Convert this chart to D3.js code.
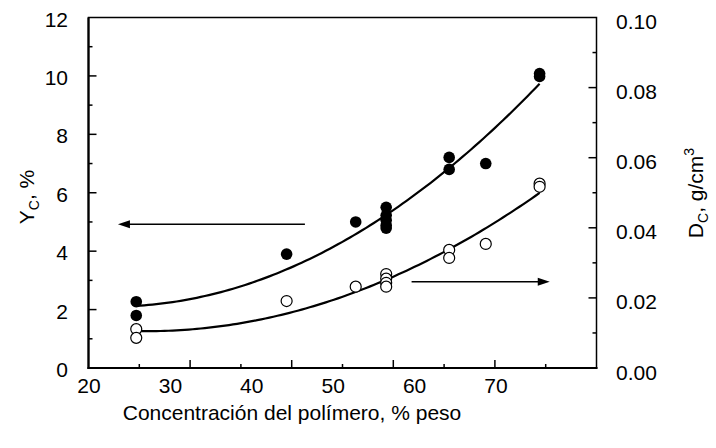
<!DOCTYPE html>
<html>
<head>
<meta charset="utf-8">
<script src="https://cdn.jsdelivr.net/npm/d3@7"></script>
<style>
  body { margin: 0; background: #fff; }
  text { font-family: "Liberation Sans", Arial, sans-serif; fill: #000; }
</style>
</head>
<body>
<svg id="chart" width="716" height="448"></svg>
<script>
// Tick values
const xTicks = [20, 30, 40, 50, 60, 70];
const yLeftTicks = [0, 2, 4, 6, 8, 10, 12];
const yRightTicks = [0, 0.02, 0.04, 0.06, 0.08, 0.10];

// Y_C (%) vs polymer concentration — filled markers, left axis
const ycConc = [24.7, 24.7, 39.5, 46.3, 49.3, 49.3, 49.3, 49.3, 49.3, 55.5, 55.5, 59.1, 64.4, 64.4];
const ycVal  = [2.27, 1.80, 3.90, 5.00, 5.50, 5.23, 5.06, 4.89, 4.79, 7.21, 6.80, 7.00, 10.08, 9.98];

// D_C (g/cm3) vs polymer concentration — open markers, right axis
const dcConc = [24.7, 24.7, 39.5, 46.3, 49.3, 49.3, 49.3, 49.3, 55.5, 55.5, 59.1, 64.4, 64.4];
const dcVal  = [0.0111, 0.0086, 0.0191, 0.0232, 0.0268, 0.0255, 0.0243, 0.0232, 0.0337, 0.0314, 0.0354, 0.0526, 0.0517];

// Arrows pointing to each series' axis: [x0, x1, y]
const arrowLeft  = [41.3, 22.9, 4.92];
const arrowRight = [51.8, 65.4, 0.0246];

const svg = d3.select("#chart");
const L = 88.5, R = 596.5, T = 17.5, B = 368;

const x = d3.scaleLinear().domain([20, 70]).range([L, R]);
const xLabel = d3.scaleLinear().domain([20, 70]).range([89, 496]);
const yL = d3.scaleLinear().domain([0, 12]).range([B, T]);
const yR = d3.scaleLinear().domain([0, 0.10]).range([B, T]);

// Quadratic least-squares trend line
function quadFit(xs, ys) {
  const n = xs.length;
  let s = [0, 0, 0, 0, 0], t = [0, 0, 0];
  for (let i = 0; i < n; i++) {
    const xi = xs[i], yi = ys[i];
    for (let k = 0; k < 5; k++) s[k] += Math.pow(xi, k);
    for (let k = 0; k < 3; k++) t[k] += yi * Math.pow(xi, k);
  }
  const M = [[s[0], s[1], s[2], t[0]], [s[1], s[2], s[3], t[1]], [s[2], s[3], s[4], t[2]]];
  for (let c = 0; c < 3; c++) {
    for (let r = c + 1; r < 3; r++) {
      const f = M[r][c] / M[c][c];
      for (let k = c; k < 4; k++) M[r][k] -= f * M[c][k];
    }
  }
  const a = [0, 0, 0];
  for (let r = 2; r >= 0; r--) {
    let v = M[r][3];
    for (let k = r + 1; k < 3; k++) v -= M[r][k] * a[k];
    a[r] = v / M[r][r];
  }
  return xv => a[0] + a[1] * xv + a[2] * xv * xv;
}

function trend(xs, ys, yScale) {
  const f = quadFit(xs, ys);
  const lo = d3.min(xs), hi = d3.max(xs);
  const pts = d3.range(0, 101).map(i => lo + (hi - lo) * i / 100);
  svg.append("path")
    .attr("d", d3.line().x(d => x(d)).y(d => yScale(f(d)))(pts))
    .attr("fill", "none").attr("stroke", "#000").attr("stroke-width", 2.2);
}

// Frame
svg.append("rect").attr("x", L).attr("y", T).attr("width", R - L).attr("height", B - T)
  .attr("fill", "none").attr("stroke", "#000").attr("stroke-width", 1.5);
svg.append("line").attr("x1", L).attr("x2", L).attr("y1", T).attr("y2", B + 1)
  .attr("stroke", "#000").attr("stroke-width", 2.2);
svg.append("line").attr("x1", L - 1).attr("x2", R + 1).attr("y1", B).attr("y2", B)
  .attr("stroke", "#000").attr("stroke-width", 2.2);

// Ticks (inside)
const tickG = svg.append("g").attr("stroke", "#000").attr("stroke-width", 1.5);
d3.range(25, 70, 5).forEach(v => {
  const major = v % 10 === 0;
  tickG.append("line").attr("x1", x(v)).attr("x2", x(v)).attr("y1", B).attr("y2", B - (major ? 8 : 4));
});
d3.range(1, 12, 1).forEach(v => {
  const major = v % 2 === 0;
  tickG.append("line").attr("x1", L).attr("x2", L + (major ? 8 : 4)).attr("y1", yL(v)).attr("y2", yL(v));
});
d3.range(1, 10, 1).map(v => v / 100).forEach(v => {
  const major = Math.round(v * 100) % 2 === 0;
  tickG.append("line").attr("x1", R).attr("x2", R - (major ? 8 : 4)).attr("y1", yR(v)).attr("y2", yR(v));
});

// Tick labels
const fs = 21, sub = 14;
svg.append("g").selectAll("text").data(xTicks).join("text")
  .attr("x", d => xLabel(d)).attr("y", 393).attr("text-anchor", "middle")
  .attr("font-size", fs).text(d => d);
svg.append("g").selectAll("text").data(yLeftTicks).join("text")
  .attr("x", 68).attr("y", d => yL(d) + 9).attr("text-anchor", "end")
  .attr("font-size", fs).text(d => d);
svg.append("g").selectAll("text").data(yRightTicks).join("text")
  .attr("x", 616).attr("y", d => yR(d) + 11.5).attr("text-anchor", "start")
  .attr("font-size", fs).text(d => d3.format(".2f")(d));

// Axis titles
svg.append("text").attr("x", 292).attr("y", 420).attr("text-anchor", "middle")
  .attr("font-size", fs).text("Concentración del polímero, % peso");

const yt = svg.append("text").attr("transform", "translate(34,197) rotate(-90)")
  .attr("text-anchor", "middle").attr("font-size", fs);
yt.append("tspan").text("Y");
yt.append("tspan").attr("font-size", sub).attr("dy", 5).text("C");
yt.append("tspan").attr("dy", -5).text(", %");

const rt = svg.append("text").attr("transform", "translate(703,193) rotate(-90)")
  .attr("text-anchor", "middle").attr("font-size", fs);
rt.append("tspan").text("D");
rt.append("tspan").attr("font-size", sub).attr("dy", 5).text("C");
rt.append("tspan").attr("dy", -5).text(", g/cm");
rt.append("tspan").attr("font-size", sub).attr("dy", -9).text("3");

// Trend lines
trend(ycConc, ycVal, yL);
trend(dcConc, dcVal, yR);

// Markers
svg.append("g").selectAll("circle").data(d3.range(ycConc.length)).join("circle")
  .attr("cx", i => x(ycConc[i])).attr("cy", i => yL(ycVal[i])).attr("r", 5.8)
  .attr("fill", "#000");
svg.append("g").selectAll("circle").data(d3.range(dcConc.length)).join("circle")
  .attr("cx", i => x(dcConc[i])).attr("cy", i => yR(dcVal[i])).attr("r", 5.5)
  .attr("fill", "#fff").attr("stroke", "#000").attr("stroke-width", 1.2);

// Arrows
function arrow([x0, x1, yv], yScale) {
  const y = yScale(yv), dir = Math.sign(x1 - x0);
  const xa = x(x0), xb = x(x1);
  svg.append("line").attr("x1", xa).attr("x2", xb - dir * 8).attr("y1", y).attr("y2", y)
    .attr("stroke", "#000").attr("stroke-width", 1.6);
  svg.append("path")
    .attr("d", `M${xb},${y} L${xb - dir * 12},${y - 4} L${xb - dir * 12},${y + 4} Z`)
    .attr("fill", "#000");
}
arrow(arrowLeft, yL);
arrow(arrowRight, yR);
</script>
</body>
</html>
